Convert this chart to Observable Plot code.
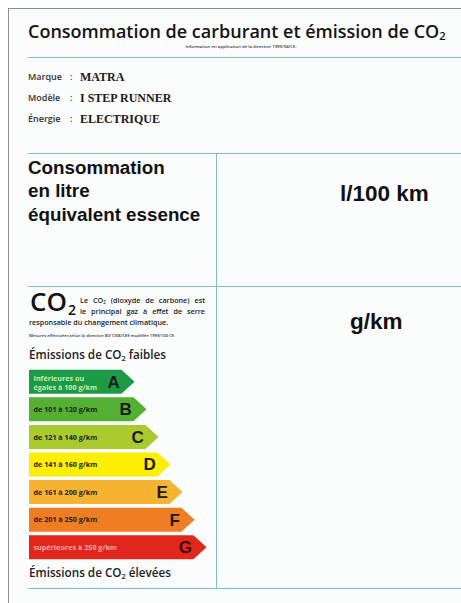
<!DOCTYPE html>
<html><head><meta charset="utf-8">
<script src="https://cdn.jsdelivr.net/npm/d3@7"></script>
<script src="https://cdn.jsdelivr.net/npm/@observablehq/plot@0.6"></script>
<style>
html,body{margin:0;padding:0;background:#fff;}
#label{position:relative;width:461px;height:603px;overflow:hidden;background:#fff;}
.panel{position:absolute;left:8px;top:8px;right:-2px;bottom:-2px;background:#fbfcfc;border-left:1.5px solid #8f8f8f;border-top:1.5px solid #8f8f8f;}
.hr{position:absolute;height:0;border-top:1.5px solid #84bfb7;}
.vr{position:absolute;width:0;border-left:1.5px solid #84bfb7;}
.t{position:absolute;white-space:nowrap;line-height:1;}
.sub{position:relative;top:0.22em;font-size:0.62em;}
#bars{position:absolute;left:0;top:364px;}
</style></head><body><div id="label"><div class="panel"></div></div>
<script>
// ---- data ----
const classes = ["A", "B", "C", "D", "E", "F", "G"];
const ranges = [
  "Inférieures ou\négales à 100 g/km",
  "de 101 à 120 g/km",
  "de 121 à 140 g/km",
  "de 141 à 160 g/km",
  "de 161 à 200 g/km",
  "de 201 à 250 g/km",
  "supérieures à 250 g/km"
];
const classColors = ["#1d9a44", "#53b033", "#a9cb2e", "#fcef03", "#f7b332", "#ef7d22", "#e1261c"];
const fieldLabels = ["Marque", "Modèle", "Énergie"];
const fieldValues = ["MATRA", "I STEP RUNNER", "ELECTRIQUE"];
const unitLabels = ["l/100 km", "g/km"];

// ---- text placement helper (baseline positioned) ----
const root = document.getElementById("label");
const ctx = document.createElement("canvas").getContext("2d");
const OPEN = "'Open Sans'", ARIAL = "'Liberation Sans'", SERIF = "'Liberation Serif'";
function put(html, x, base, o) {
  const size = o.size, fam = o.family, w = o.weight || 400;
  ctx.font = `${w} ${size}px ${fam}`;
  const m = ctx.measureText("Hg");
  const A = m.fontBoundingBoxAscent, D = m.fontBoundingBoxDescent;
  const top = base - (size - (A + D)) / 2 - A;
  const el = document.createElement("div");
  el.className = "t";
  el.innerHTML = html;
  Object.assign(el.style, {left: x + "px", top: top + "px", fontSize: size + "px",
    fontFamily: fam, fontWeight: w, color: o.color || "#1a1a1a"});
  if (o.anchor === "middle") el.style.transform = "translateX(-50%)";
  if (o.width) {
    el.style.width = o.width + "px"; el.style.whiteSpace = "normal";
    el.style.textAlign = "justify"; el.style.textAlignLast = "justify";
  }
  if (o.ls) el.style.letterSpacing = o.ls + "px";
  root.appendChild(el);
}
function hr(x, y, w) { const e = document.createElement("div"); e.className = "hr";
  Object.assign(e.style, {left: x + "px", top: y + "px", width: w + "px"}); root.appendChild(e); }
function vr(x, y, h) { const e = document.createElement("div"); e.className = "vr";
  Object.assign(e.style, {left: x + "px", top: y + "px", height: h + "px"}); root.appendChild(e); }

const sub = '<span class="sub">2</span>';

// ---- header ----
put(`Consommation de carburant et émission de CO${sub}`, 28, 38, {size: 18, family: OPEN, weight: 600, color: "#141414"});
put("Information en application de la directive 1999/94/CE.", 241, 48, {size: 4.3, family: OPEN, weight: 600, color: "#333", anchor: "middle"});
hr(28, 56.5, 440);

const fieldBase = [80, 101, 122];
fieldLabels.forEach((l, i) => {
  put(l, 28, fieldBase[i], {size: 9, family: OPEN, weight: 600, color: "#333"});
  put(":", 70, fieldBase[i], {size: 9, family: OPEN, weight: 600, color: "#333"});
  put(fieldValues[i], 80, fieldBase[i] + 1, {size: 12, family: SERIF, weight: 700, color: "#1a1a1a"});
});

// ---- frames ----
hr(28, 152.5, 440);
hr(28, 285.5, 440);
hr(28, 587.5, 440);
vr(215.5, 153, 435);

// ---- consumption block ----
put("Consommation", 28, 175, {size: 18.8, family: ARIAL, weight: 700, color: "#111"});
put("en litre", 28, 198, {size: 18.8, family: ARIAL, weight: 700, color: "#111"});
put("équivalent essence", 28, 222, {size: 18.8, family: ARIAL, weight: 700, color: "#111"});
put(unitLabels[0], 340, 202, {size: 22.5, family: ARIAL, weight: 700, color: "#111"});

// ---- CO2 block ----
put("CO", 30, 311, {size: 26, family: OPEN, weight: 600, color: "#111"});
put("2", 68, 315.5, {size: 14, family: OPEN, weight: 600, color: "#111"});
put(`Le CO${sub} (dioxyde de carbone) est`, 80, 304, {size: 7.2, family: OPEN, weight: 600, color: "#222", width: 125});
put("le principal gaz à effet de serre", 80, 315, {size: 7.2, family: OPEN, weight: 600, color: "#222", width: 125});
put("responsable du changement climatique.", 29, 326, {size: 7.2, family: OPEN, weight: 600, color: "#222"});
put("Mesures effectuées selon la directive 80/1268/CEE modifiée 1999/100 CE.", 29, 338, {size: 4.2, family: OPEN, weight: 600, color: "#333"});
put(`Émissions de CO${sub} faibles`, 29, 360, {size: 11.7, family: OPEN, weight: 600, color: "#222"});
put(`Émissions de CO${sub} élevées`, 29, 578, {size: 11.7, family: OPEN, weight: 600, color: "#222"});
put(unitLabels[1], 350, 330, {size: 22.5, family: ARIAL, weight: 700, color: "#111"});

// ---- CO2 class arrows (Plot) ----
const xMin = -8.8, xMax = 6.2, notch = 1.1, half = 0.435;
const rows = classes.map((c, i) => ({cls: c, i, range: ranges[i]}));
const outline = rows.flatMap(d => [
  {cls: d.cls, y: d.i - half, x: d.i - notch},
  {cls: d.cls, y: d.i, x: d.i},
  {cls: d.cls, y: d.i + half, x: d.i - notch}
]);
const labelFont = {dx: 4, textAnchor: "start", fontSize: 7.2, fontWeight: 700, fontFamily: "Open Sans"};
const chart = Plot.plot({
  width: 216, height: 200,
  marginLeft: 29, marginRight: 7, marginTop: 4, marginBottom: 3,
  x: {domain: [xMin, xMax], axis: null},
  y: {domain: [-0.5, 6.5], reverse: true, axis: null},
  color: {domain: classes, range: classColors},
  style: {background: "transparent", overflow: "visible"},
  marks: [
    Plot.areaX(outline, {y: "y", x1: xMin, x2: "x", z: "cls", fill: "cls", curve: "linear"}),
    Plot.text(rows, {filter: d => d.cls === "A", x: xMin, y: "i", text: "range", ...labelFont,
      fill: "#c8ecb2", lineHeight: 1.35}),
    Plot.text(rows, {filter: d => d.cls !== "A" && d.cls !== "G", x: xMin, y: "i", text: "range", ...labelFont,
      fill: "#1e1e1e"}),
    Plot.text(rows, {filter: d => d.cls === "G", x: xMin, y: "i", text: "range", ...labelFont,
      fill: "#f5a9a6"}),
    Plot.text(rows, {filter: d => d.cls !== "G", x: d => d.i - notch, y: "i", text: "cls", textAnchor: "end", dx: -2,
      fill: "#1a1a1a", fontSize: 17, fontWeight: 700, fontFamily: "Liberation Sans"}),
    Plot.text(rows, {filter: d => d.cls === "G", x: d => d.i - notch, y: "i", text: "cls", textAnchor: "end", dx: -2,
      fill: "#3b0b0b", fontSize: 17, fontWeight: 700, fontFamily: "Liberation Sans"})
  ]
});
chart.id = "bars";
root.appendChild(chart);
</script>
</body></html>
